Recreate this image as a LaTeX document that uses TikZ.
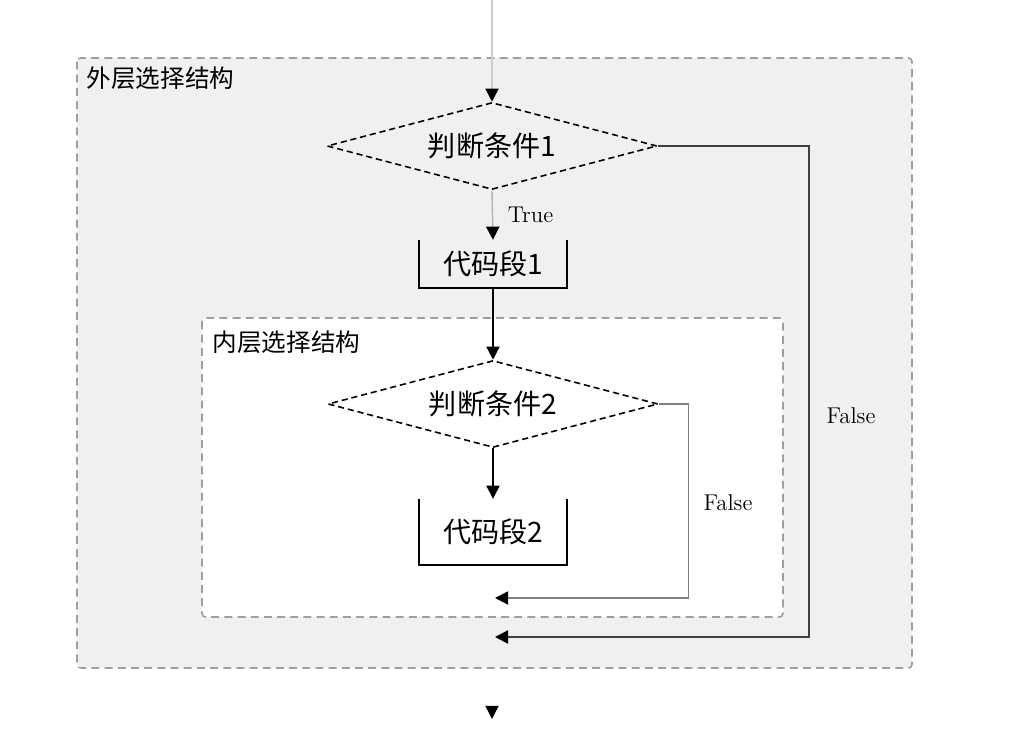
\documentclass[tikz,border=0pt]{standalone}
\usepackage{fontspec}
\newfontfamily\cjk{Noto Sans CJK SC}
\usetikzlibrary{shapes.geometric,arrows.meta}
\definecolor{panelgray}{HTML}{F0F0F0}
\begin{document}
\begin{tikzpicture}[x=.02cm,y=-.02cm,line width=.8pt,
  tip/.style={-{Triangle[length=7.5pt,width=7.5pt,color=black]}},
  cond/.style={diamond,draw,line width=.9pt,dash pattern=on 3.5pt off 2.2pt,aspect=3.8,minimum width=6.6cm,minimum height=1.74cm,inner sep=1pt,font=\cjk\fontsize{16}{18}\selectfont},
  code/.style={minimum width=2.94cm,inner sep=0pt,font=\cjk\fontsize{16}{18}\selectfont},
  frame/.style={draw=gray!75,dash pattern=on 4.5pt off 3pt,line width=.9pt,rounded corners=2pt},
  tag/.style={font=\fontsize{13}{15}\selectfont}]
\useasboundingbox (0,0) rectangle (1028,732);
% frames
\draw[frame,fill=panelgray] (77,58) rectangle (912,668);
\node[anchor=west,inner sep=0pt,font=\cjk\fontsize{14}{16}\selectfont] (outerlbl) at (86,78) {外层选择结构};
\draw[frame,fill=white] (202,318) rectangle (783,617);
\node[anchor=west,inner sep=0pt,font=\cjk\fontsize{14}{16}\selectfont] (innerlbl) at (212,342) {内层选择结构};
% nodes
\coordinate (top) at (492,0);
\node[cond] (d1) at (492,146) {判断条件1};
\node[code,minimum height=.94cm] (b1) at (493,264) {代码段1};
\node[cond] (d2) at (493,404) {判断条件2};
\node[code,minimum height=1.3cm] (b2) at (493,532) {代码段2};
\coordinate (j2) at (495,598);
\coordinate (j1) at (495,637);
\coordinate (endA) at (492,700);
\coordinate (endB) at (492,719);
\draw (b1.north west)--(b1.south west)--(b1.south east)--(b1.north east);
\draw (b2.north west)--(b2.south west)--(b2.south east)--(b2.north east);
% connectors
\draw[draw=gray!40,tip] (top)--(d1.north);
\draw[draw=gray!60,tip] (d1.south)--node[right,xshift=5pt,tag] (truelbl) {True} (b1.north);
\draw[tip] (b1.south)--(d2.north);
\draw[tip] (d2.south)--(b2.north);
\draw[draw=gray,tip] (d2.east)--++(30,0)|-(j2);
\node[tag] (false2) at (728,503) {False};
\draw[draw=black!75,line width=1.2pt,tip] (d1.east)--++(151,0)|-(j1);
\node[tag] (false1) at (851,416) {False};
\draw[draw=white,tip] (endA)--(endB);
\end{tikzpicture}
\end{document}
